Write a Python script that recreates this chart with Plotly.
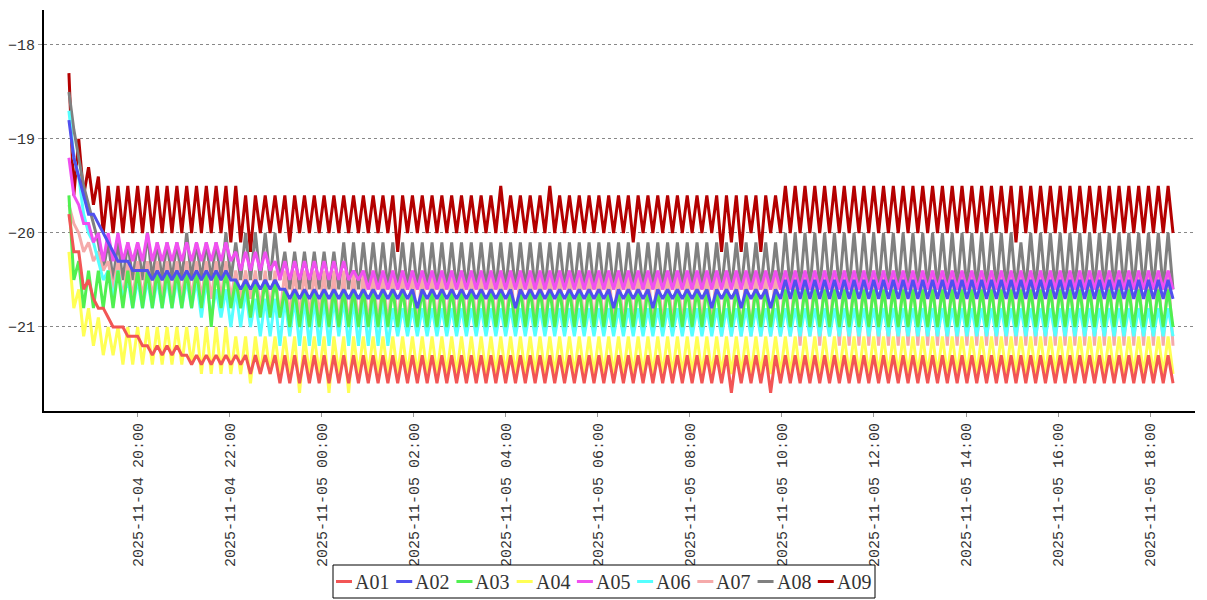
import pandas as pd
import plotly.graph_objects as go

# ---- data (values in tenths of a degree, sign dropped) ----
START = "2025-11-04 18:30"
SAMPLE_SECONDS = 384  # one sample every 6.4 minutes

SERIES_NAMES = ["A01", "A02", "A03", "A04", "A05", "A06", "A07", "A08", "A09"]
SERIES_COLORS = ["#f25555", "#5050ee", "#50f050", "#ffff55", "#f050f0",
                 "#55ffff", "#f5aaaa", "#808080", "#b40000"]

TICK_TIMES = ["2025-11-04 20:00", "2025-11-04 22:00", "2025-11-05 00:00",
              "2025-11-05 02:00", "2025-11-05 04:00", "2025-11-05 06:00",
              "2025-11-05 08:00", "2025-11-05 10:00", "2025-11-05 12:00",
              "2025-11-05 14:00", "2025-11-05 16:00", "2025-11-05 18:00"]

A01 = """
198 202 202 206 205 207 208 208 209 210 210 210 211 211 211 212 212 213 212 213
212 213 212 213 213 214 213 214 213 214 213 214 213 214 213 214 213 215 213 215
213 215 213 216 213 216 213 216 213 216 213 216 213 216 213 216 213 216 213 216
213 216 213 216 213 216 213 216 213 216 213 216 213 216 213 216 213 216 213 216
213 216 213 216 213 216 213 216 213 216 213 216 213 216 213 216 213 216 213 216
213 216 213 216 213 216 213 216 213 216 213 216 213 216 213 216 213 216 213 216
213 216 213 216 213 216 213 216 213 216 213 216 213 216 213 217 213 216 213 216
213 216 213 217 213 216 213 216 213 216 213 216 213 216 213 216 213 216 213 216
213 216 213 216 213 216 213 216 213 216 213 216 213 216 213 216 213 216 213 216
213 216 213 216 213 216 213 216 213 216 213 216 213 216 213 216 213 216 213 216
213 216 213 216 213 216 213 216 213 216 213 216 213 216 213 216 213 216 213 216
213 216 213 216 213 216
"""

A02 = """
188 192 194 196 198 198 199 200 201 202 203 203 203 204 204 204 204 205 204 205
204 205 204 205 204 205 204 205 204 205 204 205 204 205 205 206 205 206 205 206
205 206 205 206 206 207 206 207 206 207 206 207 206 207 206 207 206 207 206 207
206 207 206 207 206 207 206 207 206 207 206 208 206 207 206 207 206 207 206 207
206 207 206 207 206 207 206 207 206 207 206 208 206 207 206 207 206 207 206 207
206 207 206 207 206 207 206 207 206 207 206 208 206 207 206 207 206 207 206 208
206 207 206 207 206 207 206 207 206 207 206 208 206 207 206 207 206 208 206 207
206 207 206 208 206 207 205 207 205 207 205 207 205 207 205 207 205 207 205 207
205 207 205 207 205 207 205 207 205 207 205 207 205 207 205 207 205 207 205 207
205 207 205 207 205 207 205 207 205 207 205 207 205 207 205 207 205 207 205 207
205 207 205 207 205 207 205 207 205 207 205 207 205 207 205 207 205 207 205 207
205 207 205 207 205 207
"""

A03 = """
196 205 203 208 204 208 204 208 204 208 204 208 204 208 204 208 204 208 204 208
204 208 204 208 204 208 204 208 204 210 204 208 204 208 205 208 205 209 205 209
205 209 205 209 206 210 206 210 206 210 206 210 206 210 206 210 206 210 206 210
206 210 206 210 206 210 206 210 206 210 206 210 206 210 206 210 206 210 206 210
206 210 206 210 206 210 206 210 206 210 206 210 206 210 206 210 206 210 206 210
206 210 206 210 206 210 206 210 206 210 206 210 206 210 206 210 206 210 206 210
206 210 206 210 206 210 206 210 206 210 206 210 206 210 206 210 206 210 206 210
206 210 206 210 206 210 206 210 206 210 206 210 206 210 206 210 206 210 206 210
206 210 206 210 206 210 206 210 206 210 206 210 206 210 206 210 206 210 206 210
206 210 206 210 206 210 206 210 206 210 206 210 206 210 206 210 206 210 206 210
206 210 206 210 206 210 206 210 206 210 206 210 206 210 206 210 206 210 206 210
206 210 206 210 206 210
"""

A04 = """
202 208 206 211 208 212 209 213 210 213 210 214 210 214 210 214 210 214 210 214
210 214 210 214 210 214 210 215 210 215 210 215 210 215 211 215 211 216 211 215
211 215 211 215 211 215 211 217 211 215 211 215 211 217 211 215 211 217 211 215
211 215 211 215 211 215 211 215 211 215 211 215 211 215 211 215 211 215 211 215
211 215 211 215 211 215 211 215 211 215 211 215 211 215 211 215 211 215 211 215
211 215 211 215 211 215 211 215 211 215 211 215 211 215 211 215 211 215 211 215
211 215 211 215 211 215 211 215 211 215 211 215 211 215 211 215 211 215 211 215
211 215 211 215 211 215 211 215 211 215 211 215 211 215 211 215 211 215 211 215
211 215 211 215 211 215 211 215 211 215 211 215 211 215 211 215 211 215 211 215
211 215 211 215 211 215 211 215 211 215 211 215 211 215 211 215 211 215 211 215
211 215 211 215 211 215 211 215 211 215 211 215 211 215 211 215 211 215 211 215
211 215 211 215 211 215
"""

A05 = """
192 196 197 199 199 201 200 203 200 203 200 203 201 203 201 203 200 203 201 203
201 203 201 203 201 203 201 203 201 203 201 203 201 203 202 204 202 204 202 204
202 204 203 205 203 205 203 205 203 205 203 205 203 205 203 205 203 205 204 205
204 206 204 206 204 206 204 206 204 206 204 206 204 206 204 206 204 206 204 206
204 206 204 206 204 206 204 206 204 206 204 206 204 206 204 206 204 206 204 206
204 206 204 206 204 206 204 206 204 206 204 206 204 206 204 206 204 206 204 206
204 206 204 206 204 206 204 206 204 206 204 206 204 206 204 206 204 206 204 206
204 206 204 206 204 206 204 206 204 206 204 206 204 206 204 206 204 206 204 206
204 206 204 206 204 206 204 206 204 206 204 206 204 206 204 206 204 206 204 206
204 206 204 206 204 206 204 206 204 206 204 206 204 206 204 206 204 206 204 206
204 206 204 206 204 206 204 206 204 206 204 206 204 206 204 206 204 206 204 206
204 206 204 206 204 206
"""

A06 = """
187 192 194 198 200 201 203 205 204 207 204 207 205 208 205 208 205 208 205 208
205 208 205 208 205 208 205 209 205 209 206 209 206 210 206 210 206 210 207 211
207 211 207 212 207 211 207 212 207 212 207 212 207 212 207 211 207 212 207 212
207 212 207 212 207 212 208 211 208 211 208 211 208 211 208 211 208 211 208 211
208 211 208 211 208 211 208 211 208 211 208 211 208 211 208 211 208 211 208 211
208 211 208 211 208 211 208 211 208 211 208 211 208 211 208 211 208 211 208 211
208 211 208 211 208 211 208 211 208 211 208 211 208 211 208 211 208 211 208 211
208 211 208 211 208 211 208 211 208 211 208 211 208 211 208 211 208 211 208 211
208 211 208 211 208 211 208 211 208 211 208 211 208 211 208 211 208 211 208 211
208 211 208 211 208 211 208 211 208 211 208 211 208 211 208 211 208 211 208 211
208 211 208 211 208 211 208 211 208 211 208 211 208 211 208 211 208 211 208 211
208 211 208 211 208 211
"""

A07 = """
197 199 200 202 201 203 202 204 203 206 203 207 203 207 203 207 203 207 203 207
203 207 203 207 203 207 203 207 203 207 203 207 203 207 204 207 204 207 204 208
204 208 204 209 204 209 204 209 204 209 204 209 204 210 204 210 204 210 204 210
204 210 204 210 204 210 204 210 204 210 204 210 204 210 204 210 204 210 204 210
204 210 204 210 204 210 204 210 204 210 204 210 204 210 204 210 204 210 204 210
204 210 204 210 204 210 204 210 204 210 204 210 204 210 204 210 204 210 204 210
204 210 204 210 204 210 204 210 204 210 204 210 204 211 204 211 204 211 204 211
204 211 204 211 204 211 204 211 204 212 204 211 204 212 204 211 204 212 204 212
204 212 204 212 204 212 204 212 204 212 204 212 204 212 204 212 204 212 204 212
204 212 204 212 204 212 204 212 204 212 204 212 204 212 204 212 204 212 204 212
204 212 204 212 204 212 204 212 204 212 204 212 204 212 204 212 204 212 204 212
204 212 204 212 204 212
"""

A08 = """
185 189 192 195 197 199 201 204 201 205 201 205 201 205 201 205 200 205 201 205
201 205 201 205 200 205 201 205 201 205 201 205 200 205 201 205 200 205 200 205
200 205 200 205 202 206 202 206 202 206 202 206 202 206 202 206 201 206 201 206
201 206 201 206 201 206 201 206 201 206 201 206 201 206 201 206 201 206 201 206
201 206 201 206 201 206 201 206 201 206 201 206 201 206 201 206 201 206 201 206
201 206 201 206 201 206 201 206 201 206 201 206 201 206 201 206 201 206 201 206
201 206 201 206 201 206 201 206 201 206 201 206 201 206 201 206 201 206 201 206
201 206 201 206 201 206 200 206 200 206 200 206 200 206 200 206 200 206 200 206
200 206 200 206 200 206 200 206 200 206 200 206 200 206 200 206 200 206 200 206
200 206 200 206 200 206 200 206 200 206 200 206 200 206 201 206 200 206 200 206
200 206 200 206 200 206 200 206 200 206 200 206 200 206 200 206 200 206 200 206
200 206 200 206 200 206
"""

A09 = """
183 196 190 196 193 197 194 200 195 200 195 200 195 200 195 200 195 200 195 200
195 200 195 200 195 200 195 200 195 200 195 200 195 201 195 201 196 202 196 200
196 200 196 200 196 201 196 200 196 200 196 200 196 200 196 200 196 200 196 200
196 200 196 200 196 200 196 202 196 200 196 200 196 200 196 200 196 200 196 200
196 200 196 200 196 200 196 200 195 200 196 200 196 200 196 200 196 200 195 200
196 200 196 200 196 200 196 200 196 200 196 200 196 200 196 201 196 200 196 200
196 200 196 200 196 200 196 200 196 200 196 200 196 202 196 201 196 202 196 200
196 202 196 200 196 200 195 200 195 200 195 200 195 200 195 200 195 200 195 200
195 200 195 200 195 200 195 200 195 200 195 200 195 200 195 200 195 200 195 200
195 200 195 200 195 200 195 200 195 200 195 200 195 201 195 200 195 200 195 200
195 200 195 200 195 200 195 200 195 200 195 200 195 200 195 200 195 200 195 200
195 200 195 200 195 200
"""

SERIES_DATA = [A01, A02, A03, A04, A05, A06, A07, A08, A09]

# ---- layout / style (figure pixels; the page adds an 8 px body margin) ----
W, H = 1191, 592
ML, MR, MT, MB = 36, 4, 2, 189
X_RANGE = ["2025-11-04 17:57:30", "2025-11-05 18:58:40"]
Y_RANGE = [-21.894, -17.628]
PW, PH = W - ML - MR, H - MT - MB


def parse(text):
    return [-int(tok) / 10.0 for tok in text.split()]


def px(xp):  # figure pixel x -> paper x
    return (xp - ML) / PW


def py(yp):  # figure pixel y -> paper y
    return (H - MB - yp) / PH


fig = go.Figure()
# drawn last-to-first so that A01 ends up on top, as in the reference
for name, color, raw in reversed(list(zip(SERIES_NAMES, SERIES_COLORS, SERIES_DATA))):
    vals = parse(raw)
    times = pd.date_range(START, periods=len(vals), freq=f"{SAMPLE_SECONDS}s")
    fig.add_trace(go.Scatter(x=times, y=vals, mode="lines", name=name,
                             showlegend=False,
                             line=dict(color=color, width=3)))

# legend drawn as a boxed row of swatches + labels (compact, like the reference)
LEG_X0, LEG_X1, LEG_Y0, LEG_Y1 = 325, 867, 557, 590
LEG_MID = (LEG_Y0 + LEG_Y1) / 2
LEG_STEP = (LEG_X1 - LEG_X0) / len(SERIES_NAMES)
shapes = [dict(type="rect", xref="paper", yref="paper",
               x0=px(LEG_X0), x1=px(LEG_X1), y0=py(LEG_Y1), y1=py(LEG_Y0),
               line=dict(color="black", width=1), fillcolor="white", layer="above")]
annotations = []
for k, (name, color) in enumerate(zip(SERIES_NAMES, SERIES_COLORS)):
    lx = LEG_X0 + 3 + k * LEG_STEP
    shapes.append(dict(type="line", xref="paper", yref="paper",
                       x0=px(lx), x1=px(lx + 16), y0=py(LEG_MID), y1=py(LEG_MID),
                       line=dict(color=color, width=3), layer="above"))
    annotations.append(dict(xref="paper", yref="paper", x=px(lx + 18), y=py(LEG_MID),
                            xanchor="left", yanchor="middle", showarrow=False,
                            text=name, borderpad=0,
                            font=dict(family="Liberation Serif", size=20, color="#333")))

fig.update_layout(
    width=W, height=H,
    margin=dict(l=ML, r=MR, t=MT, b=MB, autoexpand=False),
    paper_bgcolor="white", plot_bgcolor="white",
    showlegend=False,
    shapes=shapes, annotations=annotations,
    xaxis=dict(type="date", range=X_RANGE, tickmode="array", tickvals=TICK_TIMES,
               tickformat="%Y-%m-%d %H:%M", tickangle=-90, automargin=False,
               showgrid=False, zeroline=False,
               showline=True, linecolor="black", linewidth=2,
               ticks="outside", ticklen=4, tickcolor="#999",
               tickfont=dict(family="Liberation Mono", size=15, color="#333")),
    yaxis=dict(range=Y_RANGE, dtick=1, tick0=-18, automargin=False,
               showgrid=True, gridcolor="#888", griddash="dot", gridwidth=1,
               zeroline=False,
               showline=True, linecolor="black", linewidth=2,
               ticks="outside", ticklen=4, tickcolor="#999",
               tickfont=dict(family="Liberation Mono", size=15, color="#333")),
)

fig.write_html("out.html")
